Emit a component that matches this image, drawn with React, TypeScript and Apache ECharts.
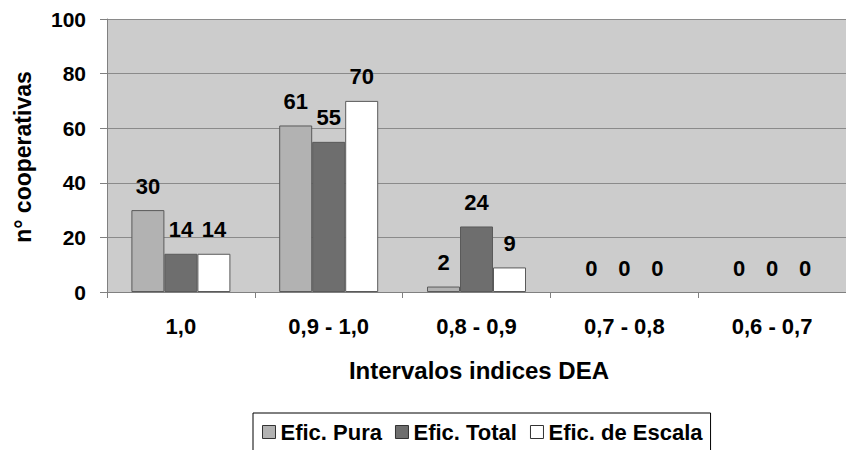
import React, { useEffect, useRef } from "react";
import * as echarts from "echarts";

const categories = ["1,0", "0,9 - 1,0", "0,8 - 0,9", "0,7 - 0,8", "0,6 - 0,7"];
const seriesNames = ["Efic. Pura", "Efic. Total", "Efic. de Escala"];
const pura = [30, 61, 2, 0, 0];
const total = [14, 55, 24, 0, 0];
const escala = [14, 70, 9, 0, 0];
const yTicks = { min: 0, max: 100, interval: 20 };
const xTitle = "Intervalos indices DEA";
const yTitle = "n° cooperativas";

const FONT = "'Liberation Sans', Arial, sans-serif";

export default function App() {
  const ref = useRef<HTMLDivElement>(null);
  useEffect(() => {
    if (!ref.current) return;
    const chart = echarts.init(ref.current, undefined, { renderer: "svg" });
    const colors = ["#b2b2b2", "#6e6e6e", "#ffffff"];
    const datas = [pura, total, escala];
    chart.setOption({
      animation: false,
      backgroundColor: "#ffffff",
      textStyle: { fontFamily: FONT },
      grid: {
        left: 107,
        top: 19,
        right: -8,
        bottom: 158,
        show: true,
        backgroundColor: "#cccccc",
        borderWidth: 0,
        containLabel: false,
      },
      legend: {
        left: 253,
        top: 413,
        orient: "horizontal",
        icon: "rect",
        itemWidth: 13,
        itemHeight: 13,
        itemGap: 13,
        padding: [8, 8, 40, 9],
        borderColor: "#000000",
        borderWidth: 1,
        textStyle: { fontSize: 22, fontWeight: "bold", color: "#000", fontFamily: FONT },
        itemStyle: { borderColor: "#333333", borderWidth: 1 },
        data: seriesNames,
      },
      xAxis: {
        type: "category",
        data: categories,
        axisLine: { show: true, lineStyle: { color: "#808080", width: 1 } },
        axisTick: { show: true, alignWithLabel: false, length: 6, lineStyle: { color: "#808080" } },
        axisLabel: { fontSize: 22, fontWeight: "bold", color: "#000", margin: 23, fontFamily: FONT },
        splitLine: { show: false },
      },
      yAxis: {
        type: "value",
        min: yTicks.min,
        max: yTicks.max,
        interval: yTicks.interval,
        axisLine: { show: true, lineStyle: { color: "#808080", width: 1 } },
        axisTick: { show: true, length: 7, lineStyle: { color: "#808080" } },
        axisLabel: { fontSize: 21, fontWeight: "bold", color: "#000", margin: 21, fontFamily: FONT },
        splitLine: { show: true, lineStyle: { color: "#8a8a8a", width: 1 } },
      },
      graphic: [
        {
          type: "text",
          x: 479,
          y: 370,
          style: {
            text: xTitle,
            font: `bold 24px ${FONT}`,
            fill: "#000",
            textAlign: "center",
            textVerticalAlign: "middle",
          },
        },
        {
          type: "text",
          x: 23,
          y: 157,
          rotation: Math.PI / 2,
          style: {
            text: yTitle,
            font: `bold 23px ${FONT}`,
            fill: "#000",
            textAlign: "center",
            textVerticalAlign: "middle",
          },
        },
      ],
      series: seriesNames.map((name, i) => ({
        name,
        type: "bar",
        data: datas[i].map((v) =>
          v === 0 ? { value: v, itemStyle: { borderWidth: 0 } } : v
        ),
        barWidth: 33,
        barGap: "0%",
        itemStyle: { color: colors[i], borderColor: "#5a5a5a", borderWidth: 1 },
        label: {
          show: true,
          position: "top",
          distance: 13,
          fontSize: 22,
          fontWeight: "bold",
          color: "#000",
          fontFamily: FONT,
        },
      })),
    });
    return () => chart.dispose();
  }, []);
  return (
    <div
      ref={ref}
      style={{ position: "fixed", left: 0, top: 0, width: 846, height: 450 }}
    />
  );
}
